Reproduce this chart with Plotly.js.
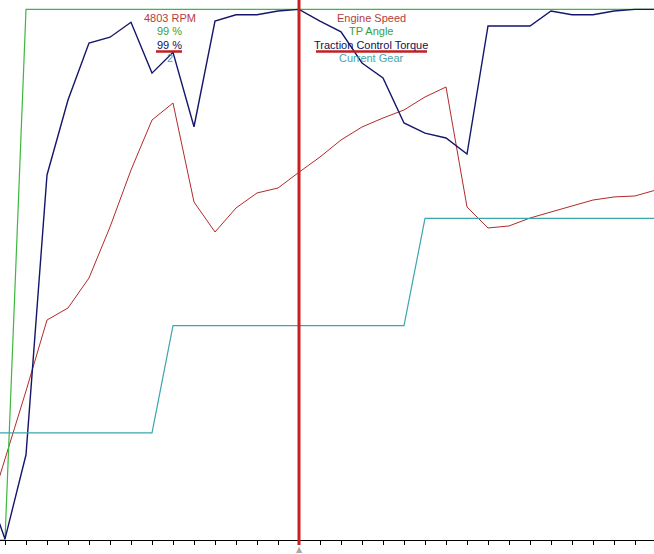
<!DOCTYPE html>
<html>
<head>
<meta charset="utf-8">
<script src="https://cdn.plot.ly/plotly-3.0.1.min.js"></script>
<style>
html,body{margin:0;padding:0;background:#fff;}
#chart{width:654px;height:554px;}
</style>
</head>
<body>
<div id="chart"></div>
<script>
// sample index (one log sample per tick)
var sampleIndex = [-1,0,1,2,3,4,5,6,7,8,9,10,11,12,13,14,15,16,17,18,19,20,21,22,23,24,25,26,27,28,29,30,31];
// Engine Speed (RPM)
var engineSpeed = [170,1058,1946,2873,3030,3422,4088,4832,5485,5707,4414,4022,4336,4532,4597,4803,5002,5224,5394,5511,5616,5786,5916,4349,4075,4101,4205,4284,4362,4440,4480,4493,4571];
// TP Angle (%)
var tpAngle = [0,0,99,99,99,99,99,99,99,99,99,99,99,99,99,99,99,99,99,99,99,99,99,99,99,99,99,99,99,99,99,99,99];
// Traction Control Torque (%)
var tcTorque = [11.2,0.2,15.9,68.1,82.1,92.7,93.8,96.6,87.1,91.0,77.1,96.8,98.0,98.0,98.7,99,96.8,94.8,89.0,86.2,77.8,75.9,75.0,72.0,95.9,95.9,95.9,98.7,98.0,98.0,98.7,99,99];
// Current Gear
var currentGear = [1,1,1,1,1,1,1,1,1,2,2,2,2,2,2,2,2,2,2,2,2,3,3,3,3,3,3,3,3,3,3,3,3];

var cursorIndex = 14;
var seriesNames = ["Engine Speed","TP Angle","Traction Control Torque","Current Gear"];
var cursorPos = sampleIndex.indexOf(cursorIndex);
var readouts = [
  engineSpeed[cursorPos] + " RPM",
  tpAngle[cursorPos] + " %",
  tcTorque[cursorPos] + " %",
  String(currentGear[cursorPos])
];

var cRed = "#b22a2a", cGreen = "#3cb83c", cBlue = "#15156a", cTeal = "#3aa6ae";
var txtColors = ["#b43c3c", "#3a9e3a", "#10105a", "#4aa4ac"];

var traces = [
  {x: sampleIndex, y: tpAngle, yaxis: "y2", mode: "lines", line: {color: cGreen, width: 1.2}, name: seriesNames[1]},
  {x: sampleIndex, y: currentGear, yaxis: "y3", mode: "lines", line: {color: cTeal, width: 1.2}, name: seriesNames[3]},
  {x: sampleIndex, y: engineSpeed, yaxis: "y", mode: "lines", line: {color: cRed, width: 1}, name: seriesNames[0]},
  {x: sampleIndex, y: tcTorque, yaxis: "y2", mode: "lines", line: {color: cBlue, width: 1.4}, name: seriesNames[2]}
];

// plot area: x 0..654 px, y 4..540 px
function px(xp){ return xp/654; }
function py(yp){ return (540-yp)/536; }

var annotations = [];
var rowY = [18, 31, 45, 58];
for (var k = 0; k < 4; k++) {
  annotations.push({xref:"paper", yref:"paper", x: px(170), y: py(rowY[k]), text: readouts[k], showarrow:false,
    xanchor:"center", yanchor:"middle", font:{family:"Liberation Sans, Arial, sans-serif", size:11, color: txtColors[k]}});
  annotations.push({xref:"paper", yref:"paper", x: px(371), y: py(rowY[k]), text: seriesNames[k], showarrow:false,
    xanchor:"center", yanchor:"middle", font:{family:"Liberation Sans, Arial, sans-serif", size:11, color: txtColors[k]}});
}
annotations.push({xref:"x", yref:"paper", x: cursorIndex, y: py(549), text:"▲", showarrow:false,
  xanchor:"center", yanchor:"middle", font:{family:"DejaVu Sans", size:8, color:"#a8a8a8"}});

var shapes = [
  {type:"line", xref:"x", yref:"paper", x0: cursorIndex, x1: cursorIndex, y0: py(545), y1: py(0),
   line:{color:"#cc1f1f", width:3}},
  {type:"line", xref:"paper", yref:"paper", x0: px(156), x1: px(182), y0: py(51.5), y1: py(51.5),
   line:{color:"#c02020", width:2.5}},
  {type:"line", xref:"paper", yref:"paper", x0: px(316), x1: px(427), y0: py(51.5), y1: py(51.5),
   line:{color:"#c02020", width:2.5}}
];

var layout = {
  width: 654, height: 554,
  margin: {l:0, r:0, t:4, b:14, pad:0},
  paper_bgcolor: "#ffffff", plot_bgcolor: "#ffffff",
  showlegend: false,
  xaxis: {range: [-5/21, 649/21], showgrid:false, zeroline:false, showline:true, linecolor:"#000", linewidth:1,
          ticks:"outside", ticklen:4, tickcolor:"#000", tickwidth:1, tick0:0, dtick:1, showticklabels:false, fixedrange:true},
  yaxis: {range:[0,7000], visible:false, fixedrange:true},
  yaxis2: {range:[0,100], overlaying:"y", visible:false, fixedrange:true},
  yaxis3: {range:[0,5], overlaying:"y", visible:false, fixedrange:true},
  annotations: annotations,
  shapes: shapes
};

Plotly.newPlot("chart", traces, layout, {displayModeBar:false, staticPlot:true});
</script>
</body>
</html>
